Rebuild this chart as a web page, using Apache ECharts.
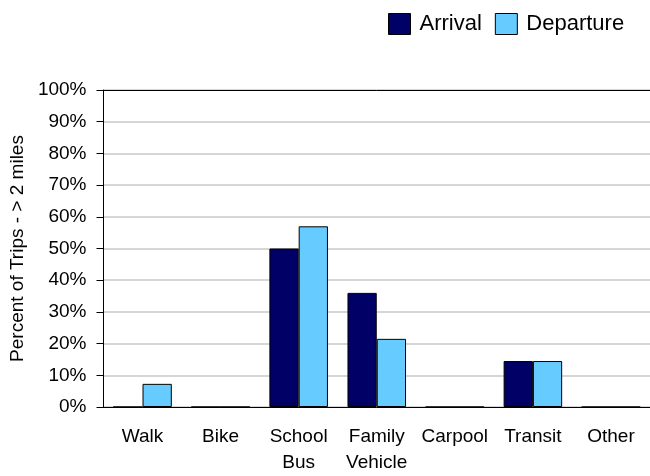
<!DOCTYPE html>
<html>
<head>
<meta charset="utf-8">
<script src="https://cdn.jsdelivr.net/npm/echarts@6/dist/echarts.min.js"></script>
<style>
  html, body { margin: 0; padding: 0; background: #fff; }
  #chart { width: 650px; height: 476px; }
</style>
</head>
<body>
<div id="chart"></div>
<script>
// Share of trips longer than 2 miles, by travel mode
var categories = ['Walk', 'Bike', 'School\nBus', 'Family\nVehicle', 'Carpool', 'Transit', 'Other'];
var arrival = [0, 0, 50, 36, 0, 14.5, 0];
var departure = [7.3, 0, 57, 21.5, 0, 14.5, 0];
var yTicks = [0, 10, 20, 30, 40, 50, 60, 70, 80, 90, 100];

var FONT = '"Liberation Sans", Arial, sans-serif';
var chart = echarts.init(document.getElementById('chart'));

chart.setOption({
  animation: false,
  textStyle: { fontFamily: FONT, color: '#000' },
  legend: {
    left: 388,
    top: 13,
    padding: 0,
    itemWidth: 22,
    itemHeight: 21,
    itemGap: 13,
    icon: 'rect',
    textStyle: { fontFamily: FONT, fontSize: 22, color: '#000', padding: [0, 0, 0, 4] },
    data: [
      { name: 'Arrival', itemStyle: { color: '#000066', borderColor: '#000', borderWidth: 1 } },
      { name: 'Departure', itemStyle: { color: '#66CCFF', borderColor: '#000', borderWidth: 1 } }
    ]
  },
  grid: { left: 98, top: 90, width: 554, height: 318, containLabel: false },
  xAxis: {
    type: 'category',
    data: categories,
    boundaryGap: true,
    axisLine: { lineStyle: { color: '#000', width: 1 } },
    axisTick: { alignWithLabel: true, length: 6, lineStyle: { color: '#000' } },
    axisLabel: { fontFamily: FONT, fontSize: 19, color: '#000', margin: 17, lineHeight: 26, interval: 0 },
    splitLine: { show: false }
  },
  yAxis: {
    type: 'value',
    min: yTicks[0],
    max: yTicks[yTicks.length - 1],
    interval: 10,
    name: 'Percent of Trips - > 2 miles',
    nameLocation: 'middle',
    nameGap: 68,
    nameTextStyle: { fontFamily: FONT, fontSize: 19, color: '#000' },
    axisLine: { show: true, lineStyle: { color: '#000', width: 1 } },
    axisTick: { show: true, inside: false, length: 7, lineStyle: { color: '#000' } },
    axisLabel: { fontFamily: FONT, fontSize: 19, color: '#000', margin: 17, formatter: '{value}%' },
    splitLine: { show: true, lineStyle: { color: '#c8c8c8', width: 1.5 } }
  },
  series: [
    {
      name: 'Arrival',
      type: 'bar',
      data: arrival,
      barGap: '0%',
      barCategoryGap: '25%',
      itemStyle: { color: '#000066', borderColor: '#000', borderWidth: 1 }
    },
    {
      name: 'Departure',
      type: 'bar',
      data: departure,
      barGap: '0%',
      barCategoryGap: '25%',
      itemStyle: { color: '#66CCFF', borderColor: '#000', borderWidth: 1 },
      markLine: {
        silent: true,
        symbol: 'none',
        label: { show: false },
        lineStyle: { color: '#000', width: 1, type: 'solid' },
        data: [{ yAxis: yTicks[yTicks.length - 1] }]
      }
    }
  ]
});
</script>
</body>
</html>
